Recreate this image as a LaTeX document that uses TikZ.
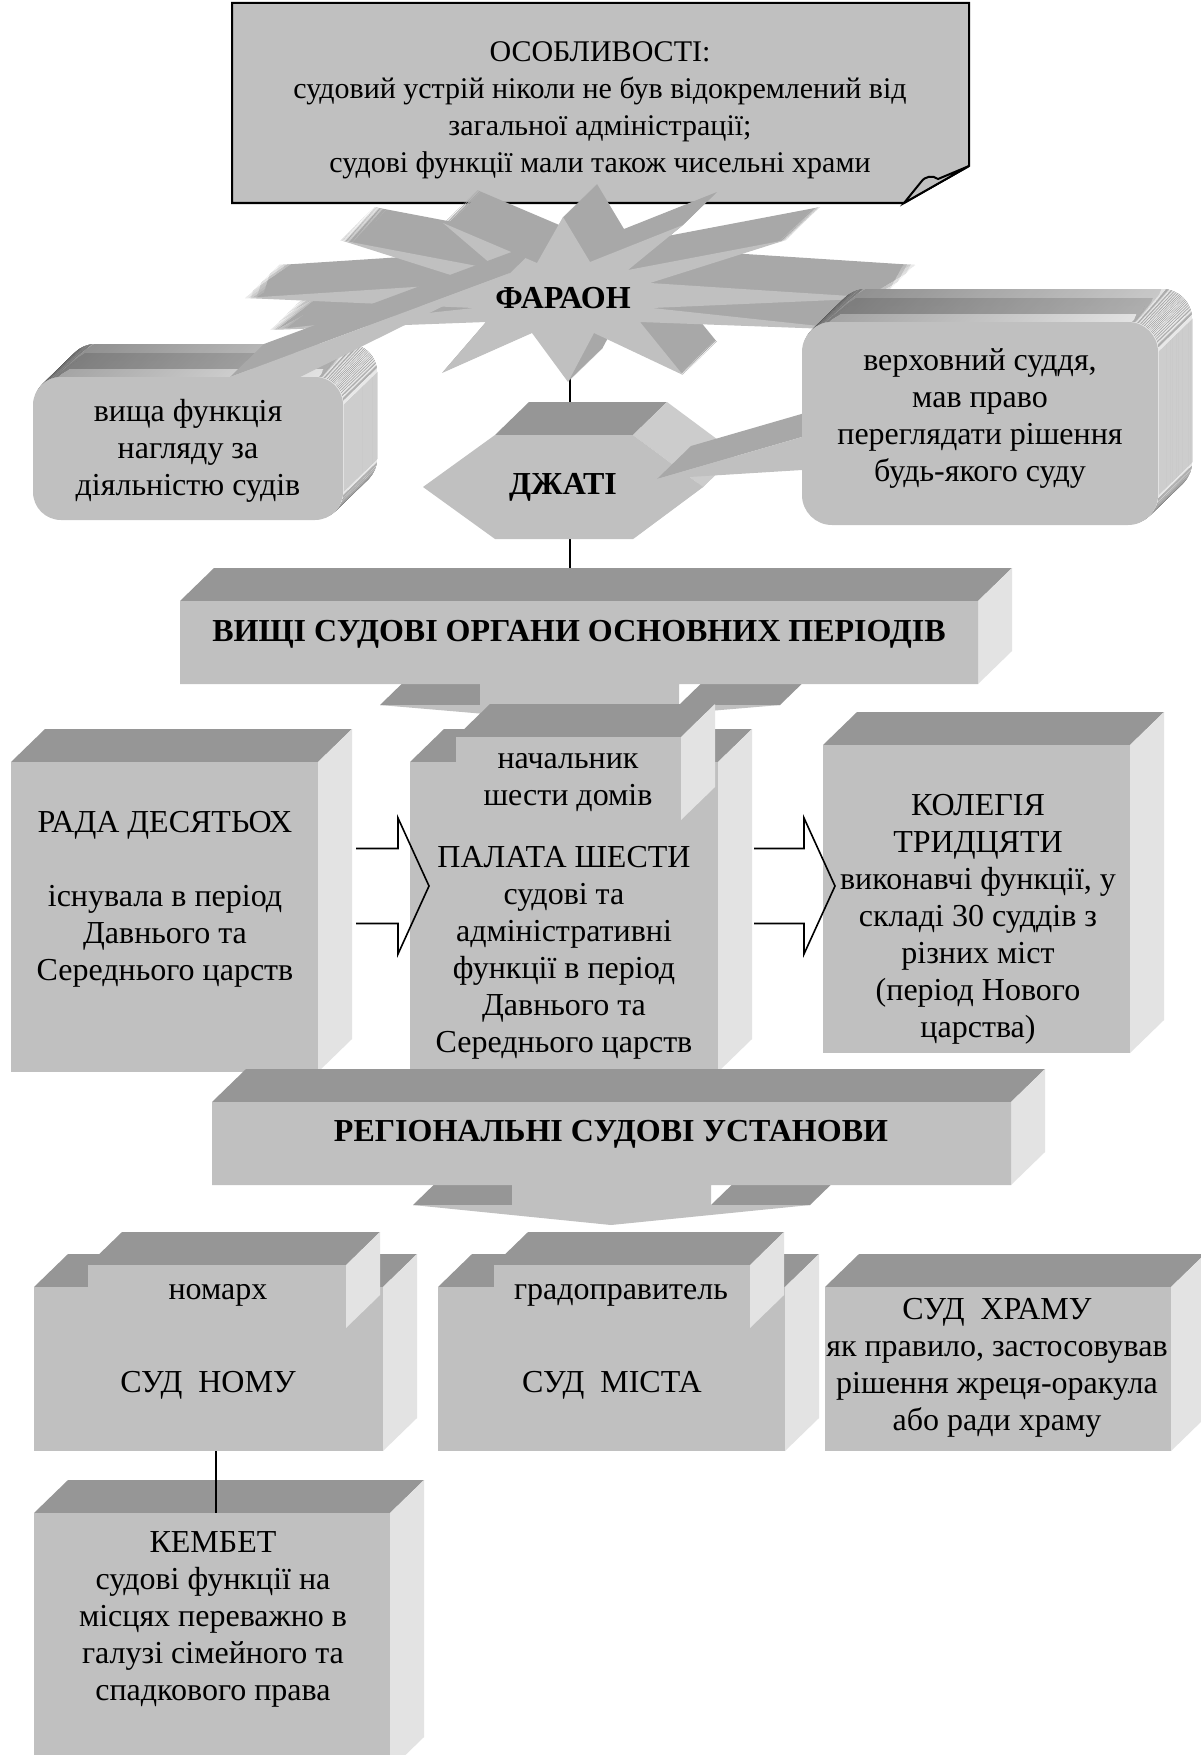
\documentclass[tikz,border=0pt]{standalone}
\usepackage{fontspec}
\setmainfont{Liberation Serif}
\usetikzlibrary{backgrounds,calc,fit}

\definecolor{facefront}{HTML}{C0C0C0}
\definecolor{facetop}{HTML}{969696}
\definecolor{faceside}{HTML}{E3E3E3}
\definecolor{faceedge}{HTML}{CCCCCC}
\definecolor{burstback}{HTML}{A8A8A8}
\definecolor{bevelleft}{HTML}{9E9E9E}
\definecolor{bevelright}{HTML}{E8E8E8}

\tikzset{
  every node/.style={inner sep=0pt},
  body/.style={font=\fontsize{32}{37}\selectfont, align=center},
  heading/.style={font=\fontsize{32}{37}\selectfont\bfseries, align=center},
  notetext/.style={font=\fontsize{30}{37}\selectfont, align=center},
  front/.style={fill=facefront},
  topface/.style={fill=facetop},
  sideface/.style={fill=faceside},
  hexside/.style={fill=faceedge},
  pointerback/.style={fill=burstback},
  bevel/.style={left color=bevelleft, right color=bevelright},
  note/.style={fill=facefront, draw=black, line width=2pt, line join=miter},
  link/.style={draw=black, line width=2pt},
  hollowarrow/.style={draw=black, line width=1.6pt, line join=miter},
  burst/.pic={
    \path[pic actions] (563,217) -- (590,262) -- (683,225) -- (628,270) -- (786,240)
      -- (650,283) -- (881,298) -- (652,308) -- (856,330) -- (640,322) -- (683,375)
      -- (594,333) -- (568,382) -- (532,333) -- (442,373) -- (486,322) -- (270,330)
      -- (474,308) -- (245,298) -- (476,283) -- (340,240) -- (498,270) -- (443,223)
      -- (537,263) -- cycle;
  }
}

% box with its top and side faces, extruded up and to the right
\newcommand{\slab}[5]{%
  \fill[topface] (#2,#3) -- ++(34,-33) -- ({#4+34},{#3-33}) -- (#4,#3) -- cycle;
  \fill[sideface] (#4,#3) -- ++(34,-33) -- ({#4+34},{#5-33}) -- (#4,#5) -- cycle;
  \node[front, fit={(#2,#3) (#4,#5)}] (#1) {};
}
% hollow block arrow between two named points
\newcommand{\blockarrow}[2]{%
  \draw[hollowarrow] ($(#1)+(0,-37.5)$) -- ($(#2)+(-31,-37.5)$) -- ($(#2)+(-31,-68)$)
    -- (#2) -- ($(#2)+(-31,68)$) -- ($(#2)+(-31,37.5)$) -- ($(#1)+(0,37.5)$);
}

\begin{document}
\begin{tikzpicture}[x=1pt,y=-1pt]
\useasboundingbox (0,0) rectangle (1201,1755);
\clip (0,0) rectangle (1201,1755);
% Drawing the note
\filldraw[note] (232,3) -- (969,3) -- (969,166) -- (904,203) -- (232,203) -- cycle;
\filldraw[note] (904,203) -- (921,182) .. controls (925,176) and (933,175) .. (938,179) -- (969,166) -- cycle;
\node[notetext] (note) at (600,110) {ОСОБЛИВОСТІ:\\судовий устрій ніколи не був відокремлений від\\загальної адміністрації;\\судові функції мали також чисельні храми};
% Done with the note; drawing the burst
\foreach \t in {34,33,...,1}
  \pic[fill=burstback] at ({\t},{-0.97*\t}) {burst};
\pic[fill=facefront] at (0,0) {burst};
\coordinate (burstS) at (570,378);
% Callout: left
\foreach \t in {34,33,...,1}
  \fill[bevel, rounded corners=28pt] ({33+\t},{377-0.97*\t}) rectangle +(310,143);
\fill[pointerback] (230,377) -- (264,344) -- (544,240) -- (510,273) -- cycle;
\fill[front, rounded corners=28pt] (33,377) rectangle (343,520);
\fill[front] (230,377) -- (510,273) -- (300,377) -- cycle;
\node[body] (nahliad) at (188,451) {вища функція\\нагляду за\\діяльністю судів};
% Hexagon
\fill[topface] (495,435) -- (529,402) -- (667,402) -- (633,435) -- cycle;
\fill[hexside] (633,435) -- (667,402) -- (737,454) -- (703,487) -- cycle;
\fill[hexside] (703,487) -- (737,454) -- (667,506) -- (633,539) -- cycle;
\fill[front] (423,487) -- (495,435) -- (633,435) -- (703,487) -- (633,539) -- (495,539) -- cycle;
\coordinate (djatiN) at (570,435);
\coordinate (djatiS) at (570,539);
\node[heading] (djati) at (563,487) {ДЖАТІ};
% Callout: right
\foreach \t in {34,33,...,1}
  \fill[bevel, rounded corners=30pt] ({802+\t},{322-0.97*\t}) rectangle +(356,203);
\fill[pointerback] (657,479) -- (691,446) -- (836,404) -- (802,437) -- cycle;
\fill[front, rounded corners=30pt] (802,322) rectangle (1158,525);
\fill[front] (657,479) -- (802,437) -- (802,470) -- cycle;
\node[body] (suddia) at (980,418) {верховний суддя,\\мав право\\переглядати рішення\\будь-якого суду};
\node[heading] (pharaoh) at (563,298) {ФАРАОН};
% Done with the top; drawing the first arrow box
\fill[topface] (180,601) -- (214,568) -- (1012,568) -- (978,601) -- cycle;
\fill[sideface] (978,601) -- (1012,568) -- (1012,651) -- (978,684) -- cycle;
\fill[topface] (380,705) -- (414,672) -- (514,672) -- (480,705) -- cycle;
\fill[topface] (679,705) -- (713,672) -- (814,672) -- (780,705) -- cycle;
\fill[front] (180,601) -- (978,601) -- (978,684) -- (679,684) -- (679,705) -- (780,705)
  -- (579,722) -- (380,705) -- (480,705) -- (480,684) -- (180,684) -- cycle;
\coordinate (vyshchiN) at (570,601);
\node[heading] (vyshchi) at (579,634) {ВИЩІ СУДОВІ ОРГАНИ ОСНОВНИХ ПЕРІОДІВ};
% Row of three
\slab{rada}{11}{762}{318}{1072}
\node[body] (radatxt) at (165,899) {РАДА ДЕСЯТЬОХ\\[37pt]існувала в період\\Давнього та\\Середнього царств};
\slab{palata}{410}{762}{718}{1072}
\slab{nachalnyk}{456}{737}{681}{820}
\node[body] (nachalnyktxt) at (568,783) {начальник\\шести домів};
\node[body] (palatatxt) at (564,953) {ПАЛАТА ШЕСТИ\\судові та\\адміністративні\\функції в період\\Давнього та\\Середнього царств};
\slab{kolegiia}{823}{745}{1130}{1053}
\node[body] (kolegiiatxt) at (978,919) {КОЛЕГІЯ\\ТРИДЦЯТИ\\виконавчі функції, у\\складі 30 суддів з\\різних міст\\(період Нового\\царства)};
\coordinate (radaR) at (356,886);
\coordinate (palataL) at (429,886);
\coordinate (palataR) at (754,886);
\coordinate (kolegiiaL) at (835,886);
\blockarrow{radaR}{palataL}
\blockarrow{palataR}{kolegiiaL}
% Second arrow box
\fill[topface] (212,1102) -- (246,1069) -- (1045,1069) -- (1011,1102) -- cycle;
\fill[sideface] (1011,1102) -- (1045,1069) -- (1045,1152) -- (1011,1185) -- cycle;
\fill[topface] (413,1205) -- (447,1172) -- (546,1172) -- (512,1205) -- cycle;
\fill[topface] (711,1205) -- (745,1172) -- (844,1172) -- (810,1205) -- cycle;
\fill[front] (212,1102) -- (1011,1102) -- (1011,1185) -- (711,1185) -- (711,1205) -- (810,1205)
  -- (611,1225) -- (413,1205) -- (512,1205) -- (512,1185) -- (212,1185) -- cycle;
\node[heading] (regional) at (611,1134) {РЕГІОНАЛЬНІ СУДОВІ УСТАНОВИ};
% Row of courts
\slab{nomu}{34}{1287}{383}{1451}
\slab{nomarkh}{88}{1265}{346}{1328}
\node[body] (nomarkhtxt) at (218,1295) {номарх};
\node[body] (nomutxt) at (208,1385) {СУД\ \ НОМУ};
\slab{mista}{438}{1287}{785}{1451}
\slab{gradopr}{494}{1265}{750}{1328}
\node[body] (gradoprtxt) at (621,1295) {градоправитель};
\node[body] (mistatxt) at (612,1385) {СУД\ \ МІСТА};
\slab{khramu}{825}{1287}{1171}{1451}
\node[body] (khramutxt) at (997,1368) {СУД\ \ ХРАМУ\\як правило, застосовував\\рішення жреця-оракула\\або ради храму};
\slab{kembet}{34}{1513}{390}{1770}
\node[body] (kembettxt) at (213,1619) {КЕМБЕТ\\судові функції на\\місцях переважно в\\галузі сімейного та\\спадкового права};
\draw[link] ([xshift=7pt]nomu.south) -- ([xshift=7pt]nomu.south |- kembet.north);
% Done with boxes; drawing links behind them
\begin{scope}[on background layer]
\fill[white] (0,0) rectangle (1201,1755);
\draw[link] (burstS) -- (djatiN);
\draw[link] (djatiS) -- (vyshchiN);
\end{scope}
\end{tikzpicture}
\end{document}
